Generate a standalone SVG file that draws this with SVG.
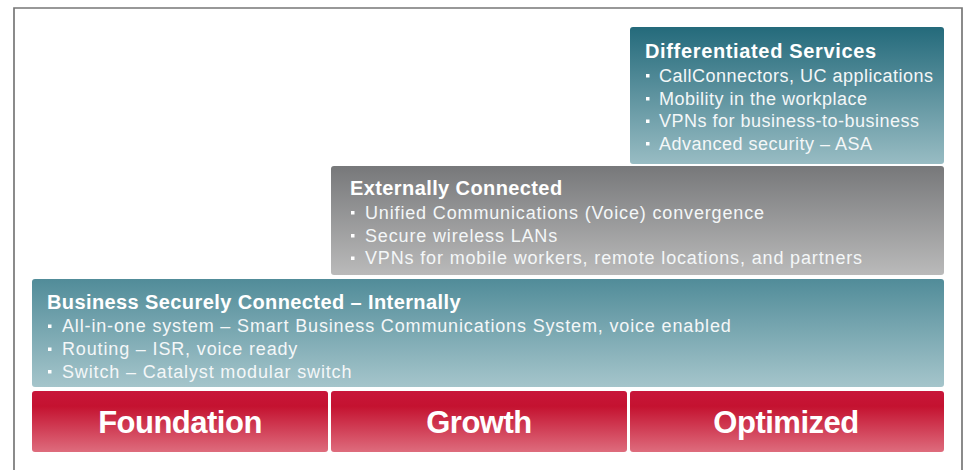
<svg xmlns="http://www.w3.org/2000/svg" width="964" height="470" viewBox="0 0 964 470">
<defs>
<linearGradient id="gTeal" x1="0" y1="0" x2="0" y2="1"><stop offset="0" stop-color="#246a7b"/><stop offset="1" stop-color="#98bcc3"/></linearGradient>
<linearGradient id="gBiz" x1="0" y1="0" x2="0" y2="1"><stop offset="0" stop-color="#518c99"/><stop offset="1" stop-color="#a5c5cb"/></linearGradient>
<linearGradient id="gGray" x1="0" y1="0" x2="0" y2="1"><stop offset="0" stop-color="#77787a"/><stop offset="1" stop-color="#bababa"/></linearGradient>
<linearGradient id="gRed" x1="0" y1="0" x2="0" y2="1"><stop offset="0" stop-color="#c8163a"/><stop offset="0.25" stop-color="#c41230"/><stop offset="1" stop-color="#de6c7d"/></linearGradient>
<style>
.title{font-family:"Liberation Sans",Arial,sans-serif;font-weight:bold;font-size:20px;fill:#fff;letter-spacing:0.4px}
.item{font-family:"Liberation Sans",Arial,sans-serif;font-size:18px;fill:#f4f7f8;letter-spacing:0.85px}
#differentiated .item{letter-spacing:0.5px}
#differentiated .title{letter-spacing:0.65px}
.stage{font-family:"Liberation Sans",Arial,sans-serif;font-weight:bold;font-size:31px;fill:#fff;letter-spacing:-0.5px;text-anchor:middle}
.bul{fill:#fff}
.frame{stroke:#777;stroke-width:1.7;fill:none}
</style>
</defs>
<rect width="964" height="470" fill="#fff"/>
<path class="frame" d="M14,470 V8 H962 V470"/>

<g id="differentiated">
<rect x="630" y="27" width="314" height="137" rx="3" fill="url(#gTeal)"/>
<text class="title" x="645" y="58">Differentiated Services</text>
<rect class="bul" x="646" y="74" width="3.5" height="3.5"/>
<text class="item" x="659" y="81.5">CallConnectors, UC applications</text>
<rect class="bul" x="646" y="97" width="3.5" height="3.5"/>
<text class="item" x="659" y="104.5">Mobility in the workplace</text>
<rect class="bul" x="646" y="119.5" width="3.5" height="3.5"/>
<text class="item" x="659" y="127">VPNs for business-to-business</text>
<rect class="bul" x="646" y="142" width="3.5" height="3.5"/>
<text class="item" x="659" y="149.5">Advanced security – ASA</text>
</g>

<g id="external">
<rect x="331" y="166" width="613" height="109" rx="3" fill="url(#gGray)"/>
<text class="title" x="350" y="195">Externally Connected</text>
<rect class="bul" x="351" y="211" width="3.5" height="3.5"/>
<text class="item" x="365" y="218.5">Unified Communications (Voice) convergence</text>
<rect class="bul" x="351" y="234" width="3.5" height="3.5"/>
<text class="item" x="365" y="241.5">Secure wireless LANs</text>
<rect class="bul" x="351" y="256.5" width="3.5" height="3.5"/>
<text class="item" x="365" y="264">VPNs for mobile workers, remote locations, and partners</text>
</g>

<g id="internal">
<rect x="32" y="279" width="912" height="108" rx="3" fill="url(#gBiz)"/>
<text class="title" x="47" y="309">Business Securely Connected – Internally</text>
<rect class="bul" x="48" y="324.5" width="3.5" height="3.5"/>
<text class="item" x="62" y="332">All-in-one system – Smart Business Communications System, voice enabled</text>
<rect class="bul" x="48" y="347.5" width="3.5" height="3.5"/>
<text class="item" x="62" y="355">Routing – ISR, voice ready</text>
<rect class="bul" x="48" y="370" width="3.5" height="3.5"/>
<text class="item" x="62" y="377.5">Switch – Catalyst modular switch</text>
</g>

<g id="foundation">
<rect x="32" y="391" width="296" height="61" rx="3" fill="url(#gRed)"/>
<text class="stage" x="180" y="433">Foundation</text>
</g>
<g id="growth">
<rect x="331" y="391" width="296" height="61" rx="3" fill="url(#gRed)"/>
<text class="stage" x="479" y="433">Growth</text>
</g>
<g id="optimized">
<rect x="630" y="391" width="314" height="61" rx="3" fill="url(#gRed)"/>
<text class="stage" x="786" y="433">Optimized</text>
</g>
<g id="connectors"/>
</svg>
